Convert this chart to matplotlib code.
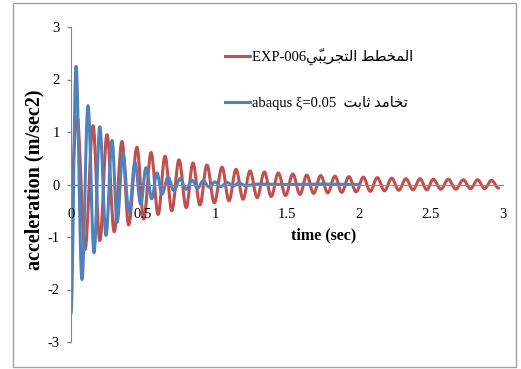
import numpy as np
import matplotlib.pyplot as plt
from matplotlib.patches import Rectangle, PathPatch
from matplotlib.path import Path
from matplotlib.lines import Line2D

# measured record EXP-006: peak / trough times (s) and accelerations (m/s^2)
exp_peak_t = [0.042, 0.153, 0.25, 0.354, 0.458, 0.556, 0.653, 0.75, 0.847, 0.944,
              1.049, 1.146, 1.243, 1.343, 1.44, 1.54, 1.637, 1.734, 1.833, 1.93,
              2.03, 2.127, 2.227, 2.326, 2.424, 2.516, 2.62, 2.724, 2.824, 2.92]
exp_peak_a = [1.3, 1.12, 0.95, 0.82, 0.71, 0.61, 0.54, 0.47, 0.41, 0.37,
              0.33, 0.29, 0.26, 0.24, 0.22, 0.2, 0.18, 0.17, 0.16, 0.15,
              0.14, 0.13, 0.12, 0.11, 0.11, 0.10, 0.10, 0.09, 0.09, 0.08]
exp_trough_t = [0.0, 0.097, 0.2, 0.3, 0.4, 0.505, 0.605, 0.7, 0.8, 0.895, 0.995,
                1.097, 1.195, 1.293, 1.39, 1.49, 1.59, 1.685, 1.783, 1.88, 1.98,
                2.078, 2.177, 2.276, 2.375, 2.47, 2.568, 2.672, 2.774, 2.872, 2.97]
exp_trough_a = [0.0, -1.24, -1.07, -0.9, -0.77, -0.66, -0.57, -0.5, -0.44, -0.39, -0.35,
                -0.31, -0.28, -0.25, -0.23, -0.21, -0.19, -0.17, -0.16, -0.15, -0.14,
                -0.13, -0.12, -0.11, -0.1, -0.1, -0.09, -0.09, -0.08, -0.08, -0.07]

# abaqus model, constant damping 0.05
abq_peak_t = [0.035, 0.118, 0.2, 0.285, 0.361, 0.444, 0.521, 0.597, 0.674, 0.757,
              0.84, 0.917, 1.0, 1.083, 1.167]
abq_peak_a = [2.25, 1.5, 1.1, 0.84, 0.59, 0.42, 0.32, 0.22, 0.14, 0.11,
              0.08, 0.07, 0.05, 0.04, 0.03]
abq_trough_t = [0.0, 0.076, 0.16, 0.243, 0.32, 0.403, 0.484, 0.56, 0.632, 0.715,
                0.8, 0.88, 0.96, 1.04, 1.125, 1.21]
abq_trough_a = [-2.46, -1.81, -1.30, -0.97, -0.72, -0.53, -0.38, -0.27, -0.18, -0.12,
                -0.09, -0.07, -0.05, -0.04, -0.03, -0.02]
abq_tail_t = [1.3, 1.5, 1.75, 2.0]
abq_tail_a = [0.01, 0.0, 0.01, 0.0]

red = "#C0504D"
blue = "#4F81BD"
grey = "#888888"
serif = ["Liberation Serif", "DejaVu Sans"]


def merge(*pairs):
    t = np.concatenate([p[0] for p in pairs])
    a = np.concatenate([p[1] for p in pairs])
    o = np.argsort(t, kind="stable")
    return t[o], a[o]


def smooth_path(t, a, k=0.364):
    # smoothed line: cubic segments with flat tangents at every extremum
    verts = [(t[0], a[0])]
    codes = [Path.MOVETO]
    for i in range(len(t) - 1):
        d = (t[i + 1] - t[i]) * k
        verts += [(t[i] + d, a[i]), (t[i + 1] - d, a[i + 1]), (t[i + 1], a[i + 1])]
        codes += [Path.CURVE4] * 3
    return Path(verts, codes)


exp_t, exp_a = merge((exp_peak_t, exp_peak_a), (exp_trough_t, exp_trough_a))
abq_t, abq_a = merge((abq_peak_t, abq_peak_a), (abq_trough_t, abq_trough_a),
                     (abq_tail_t, abq_tail_a))

W, H = 521, 369
fig = plt.figure(figsize=(W / 100, H / 100), dpi=100)
ax = fig.add_axes([71 / W, 1 - 342 / H, (503 - 71) / W, (342 - 27) / H])

ax.add_patch(PathPatch(smooth_path(exp_t, exp_a), fill=False, edgecolor=red,
                       lw=2.2, joinstyle="round", capstyle="round"))
ax.add_patch(PathPatch(smooth_path(abq_t, abq_a), fill=False, edgecolor=blue,
                       lw=2.2, joinstyle="round", capstyle="round"))

ax.set_xlim(0, 3)
ax.set_ylim(-3, 3)
for s in ["top", "right"]:
    ax.spines[s].set_visible(False)
ax.spines["left"].set_color(grey)
ax.spines["bottom"].set_color(grey)
ax.spines["bottom"].set_position(("data", 0))

ax.set_yticks([-3, -2, -1, 0, 1, 2, 3])
ax.set_yticklabels(["-3", "-2", "-1", "0", "1", "2", "3"])
ax.set_xticks([0, 0.5, 1, 1.5, 2, 2.5, 3])
ax.set_xticklabels(["0", "0.5", "1", "1.5", "2", "2.5", "3"])
ax.tick_params(axis="y", direction="out", length=3, width=1, color=grey, pad=5)
ax.tick_params(axis="x", length=0, pad=17)
for lab in ax.get_xticklabels() + ax.get_yticklabels():
    lab.set_family(serif)
    lab.set_fontsize(10.5)

fig.text(324 / W, 1 - 235 / H, "time (sec)", family=serif, fontsize=11.5,
         fontweight="bold", ha="center", va="center")
fig.text(34 / W, 1 - 180 / H, "acceleration (m/sec2)", family=serif, fontsize=14.5,
         fontweight="bold", ha="center", va="center", rotation=90)

# Arabic written in presentation forms, in visual (left-to-right) order
lbl_exp = "EXP-006" + "\uFEF2\u0651\uFE92\uFEF3\uFEAE\uFEA0\uFE98\uFEDF\uFE8D" + " " + \
          "\uFEC2\uFEC4\uFEA8\uFEE4\uFEDF\uFE8D"
lbl_abq = "abaqus \u03BE=0.05  " + "\uFE96\uFE91\uFE8E\uFE9B" + " " + \
          "\uFEAA\uFEE3\uFE8E\uFEA8\uFE97"
handles = [Line2D([], [], color=red, lw=2.2), Line2D([], [], color=blue, lw=2.2)]
fig.legend(handles, [lbl_exp, lbl_abq], loc="upper left",
           bbox_to_anchor=(225 / W, 1 - 48 / H), frameon=False,
           prop={"family": serif, "size": 10.5}, handlelength=1.7,
           handletextpad=0.15, labelspacing=2.1, borderpad=0, borderaxespad=0)

fig.patches.append(Rectangle((13 / W, 1 - 367 / H), (516 - 13) / W, (367 - 3) / H,
                             transform=fig.transFigure, fill=False,
                             edgecolor="#A0A0A0", lw=1))

fig.savefig("out.png", dpi=100)
